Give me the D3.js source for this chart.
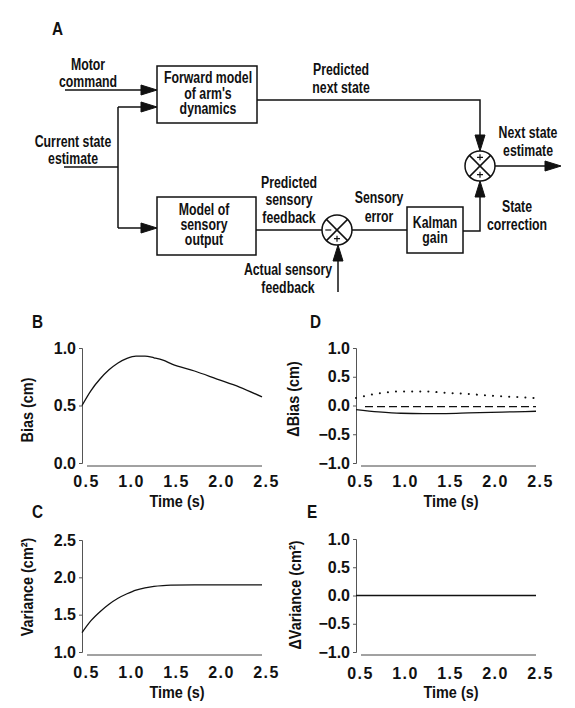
<!DOCTYPE html>
<html>
<head>
<meta charset="utf-8">
<script src="https://cdn.jsdelivr.net/npm/d3@7"></script>
<style>
body { margin: 0; background: #fff; }
text { font-family: "Liberation Sans", Arial, sans-serif; font-weight: bold; fill: #111; }
.tick text { font-family: "Liberation Sans", Arial, sans-serif; font-size: 16px; }
</style>
</head>
<body>
<svg width="575" height="708"></svg>
<script>
// panel B: bias over time
var biasTime = [0.5, 0.6, 0.7, 0.8, 0.9, 1.0, 1.1, 1.2, 1.3, 1.4, 1.5, 1.75, 2.0, 2.25, 2.5];
var biasVal  = [0.50, 0.63, 0.73, 0.81, 0.87, 0.91, 0.93, 0.93, 0.915, 0.895, 0.86, 0.80, 0.73, 0.66, 0.575];

// panel C: variance over time
var varTime = [0.5, 0.6, 0.7, 0.8, 0.9, 1.0, 1.1, 1.2, 1.3, 1.4, 1.5, 1.75, 2.0, 2.25, 2.5];
var varVal  = [1.26, 1.42, 1.54, 1.64, 1.72, 1.78, 1.83, 1.86, 1.88, 1.89, 1.895, 1.9, 1.9, 1.9, 1.9];

// panel D: change in bias, three conditions
var dTime      = [0.5, 0.75, 1.0, 1.25, 1.5, 1.75, 2.0, 2.25, 2.5];
var dBiasDot   = [0.13, 0.21, 0.245, 0.245, 0.22, 0.20, 0.17, 0.15, 0.13];
var dBiasSolid = [-0.07, -0.11, -0.135, -0.14, -0.14, -0.13, -0.12, -0.11, -0.10];
var dashTime   = [0.6, 2.5];
var dBiasDash  = [-0.02, -0.02];

// panel E: change in variance
var eTime = [0.5, 2.5];
var eVal  = [0, 0];

var timeTicks = [0.5, 1.0, 1.5, 2.0, 2.5];
var biasTicks = [0, 0.5, 1.0];
var varTicks = [1.0, 1.5, 2.0, 2.5];
var deltaTicks = [-1.0, -0.5, 0, 0.5, 1.0];

var svg = d3.select("svg");
svg.append("rect").attr("width", 575).attr("height", 708).attr("fill", "#fff");

// condensed-looking text: squeeze horizontally
function squeeze(x, y, sx, rot) {
  return "translate(" + x + "," + y + ")" + (rot ? " rotate(" + rot + ")" : "") + " scale(" + sx + ",1)";
}

// ---------- panel A: block diagram ----------
var A = svg.append("g").attr("stroke", "#111").attr("stroke-width", 1.5).attr("fill", "none");

function line(pts) {
  A.append("path").attr("d", d3.line()(pts));
}
function arrow(x, y, dir) {
  var L = 16, W = 5, p;
  if (dir == "right") p = [[x, y], [x - L, y - W], [x - L, y + W]];
  if (dir == "down")  p = [[x, y], [x - W, y - L], [x + W, y - L]];
  if (dir == "up")    p = [[x, y], [x - W, y + L], [x + W, y + L]];
  A.append("path").attr("d", d3.line()(p) + "Z").attr("fill", "#111").attr("stroke-width", 1);
}
function box(x0, y0, x1, y1) {
  A.append("rect").attr("x", x0).attr("y", y0).attr("width", x1 - x0).attr("height", y1 - y0);
}
function junction(cx, cy, r, signs) {
  A.append("circle").attr("cx", cx).attr("cy", cy).attr("r", r);
  var d = r * 0.7071;
  line([[cx - d, cy - d], [cx + d, cy + d]]);
  line([[cx - d, cy + d], [cx + d, cy - d]]);
  signs.forEach(function(s) {
    var off = r * 0.58, sx = cx, sy = cy;
    if (s.at == "top") sy -= off;
    if (s.at == "bottom") sy += off;
    if (s.at == "left") sx -= off;
    A.append("path").attr("stroke-width", 1.2)
      .attr("d", "M" + (sx - 3) + "," + sy + "H" + (sx + 3) + (s.sign == "+" ? "M" + sx + "," + (sy - 3) + "V" + (sy + 3) : ""));
  });
}

box(157, 66, 257, 123);
box(157, 197, 256, 255);
box(407, 207, 463, 253);

line([[65, 90], [150, 90]]); arrow(157, 90, "right");
line([[64, 167], [118, 167]]);
line([[118, 107], [118, 228]]);
line([[118, 107], [150, 107]]); arrow(157, 107, "right");
line([[118, 228], [150, 228]]); arrow(157, 228, "right");

line([[257, 100], [480, 100], [480, 145]]); arrow(480, 151, "down");
junction(480, 166, 15, [{at: "top", sign: "+"}, {at: "bottom", sign: "+"}]);
line([[495, 166], [555, 166]]); arrow(561, 166, "right");

line([[256, 230], [322, 230]]);
junction(337, 230, 15, [{at: "left", sign: "-"}, {at: "bottom", sign: "+"}]);
line([[352, 230], [407, 230]]);
line([[463, 231], [480, 231], [480, 187]]); arrow(480, 181, "up");
line([[338, 292], [338, 251]]); arrow(338, 245, "up");

var labels = [
  {t: "Motor", x: 88, y: 70}, {t: "command", x: 88, y: 87},
  {t: "Forward model", x: 208, y: 83}, {t: "of arm's", x: 208, y: 99}, {t: "dynamics", x: 208, y: 114},
  {t: "Current state", x: 73, y: 147}, {t: "estimate", x: 73, y: 164},
  {t: "Model of", x: 204, y: 215}, {t: "sensory", x: 204, y: 230}, {t: "output", x: 204, y: 245},
  {t: "Predicted", x: 341, y: 75}, {t: "next state", x: 341, y: 93},
  {t: "Next state", x: 528, y: 138}, {t: "estimate", x: 528, y: 156},
  {t: "Predicted", x: 289, y: 188}, {t: "sensory", x: 289, y: 205}, {t: "feedback", x: 289, y: 223},
  {t: "Sensory", x: 379, y: 203}, {t: "error", x: 379, y: 222},
  {t: "Kalman", x: 435, y: 228}, {t: "gain", x: 435, y: 243},
  {t: "State", x: 517, y: 212}, {t: "correction", x: 517, y: 230},
  {t: "Actual sensory", x: 288, y: 275}, {t: "feedback", x: 288, y: 293}
];
svg.append("g").selectAll("text").data(labels).enter().append("text")
  .attr("transform", function(d) { return squeeze(d.x, d.y, 0.77); })
  .attr("text-anchor", "middle")
  .attr("font-size", 16)
  .text(function(d) { return d.t; });

// panel letters
var letters = [{t: "A", x: 52, y: 35}, {t: "B", x: 32, y: 328}, {t: "D", x: 310, y: 328}, {t: "C", x: 32, y: 518}, {t: "E", x: 307, y: 518}];
svg.append("g").selectAll("text").data(letters).enter().append("text")
  .attr("transform", function(d) { return squeeze(d.x, d.y, 0.85); })
  .attr("font-size", 18)
  .text(function(d) { return d.t; });

// ---------- panels B-E ----------
function panel(opt) {
  var x = d3.scaleLinear().domain([0.5, 2.5]).range(opt.xr);
  var y = d3.scaleLinear().domain(opt.yd).range(opt.yr);
  var g = svg.append("g");

  var ya = g.append("g").attr("transform", "translate(" + opt.xr[0] + ",0)")
    .call(d3.axisLeft(y).tickValues(opt.yticks).tickSize(3).tickPadding(3).tickFormat(d3.format(".1f")));
  var xa = g.append("g").attr("transform", "translate(0," + (opt.yr[0] + 3) + ")")
    .call(d3.axisBottom(x).tickValues(timeTicks).tickSize(0).tickPadding(opt.xpad).tickFormat(d3.format(".1f")));
  ya.select(".domain").attr("stroke", "#555");
  xa.select(".domain").attr("stroke", "#444").attr("d", "M" + (opt.xr[0] + 5) + ",0H" + opt.xr[1]);
  xa.selectAll(".tick text").attr("dx", 4).style("letter-spacing", "1.5px");
  g.selectAll(".tick text").attr("fill", "#111");
  g.selectAll(".tick line").attr("stroke", "#555");

  g.append("text").attr("transform", squeeze((opt.xr[0] + opt.xr[1]) / 2 + 5, opt.ttl, 0.85))
    .attr("text-anchor", "middle").attr("font-size", 17).text("Time (s)");
  g.append("text").attr("transform", squeeze(opt.yl[0], opt.yl[1], 0.85, -90))
    .attr("text-anchor", "middle").attr("font-size", 17).text(opt.ylabel);

  opt.series.forEach(function(s) {
    var pts = s.t.map(function(t, i) { return [t, s.v[i]]; });
    g.append("path").datum(pts)
      .attr("fill", "none").attr("stroke", "#111").attr("stroke-width", s.w || 1.3)
      .attr("stroke-dasharray", s.dash || null)
      .attr("stroke-linecap", s.cap || "butt")
      .attr("d", d3.line().curve(d3.curveMonotoneX)
        .x(function(d) { return x(d[0]); })
        .y(function(d) { return y(d[1]); }));
  });
}

panel({xr: [82, 262], yd: [0, 1], yr: [463, 348], yticks: biasTicks, xpad: 10, ttl: 507,
  ylabel: "Bias (cm)", yl: [33, 410],
  series: [{t: biasTime, v: biasVal}]});

panel({xr: [356, 536], yd: [-1, 1], yr: [463, 348], yticks: deltaTicks, xpad: 10, ttl: 507,
  ylabel: "\u0394Bias (cm)", yl: [299, 399],
  series: [
    {t: dTime, v: dBiasDot, dash: "0.1,8", cap: "round", w: 2},
    {t: dashTime, v: dBiasDash, dash: "8,4"},
    {t: dTime, v: dBiasSolid}
  ]});

panel({xr: [82, 262], yd: [1, 2.5], yr: [652, 540], yticks: varTicks, xpad: 12, ttl: 698,
  ylabel: "Variance (cm\u00b2)", yl: [33, 587],
  series: [{t: varTime, v: varVal}]});

panel({xr: [356, 536], yd: [-1, 1], yr: [652, 539], yticks: deltaTicks, xpad: 13, ttl: 698,
  ylabel: "\u0394Variance (cm\u00b2)", yl: [301, 595],
  series: [{t: eTime, v: eVal}]});
</script>
</body>
</html>
